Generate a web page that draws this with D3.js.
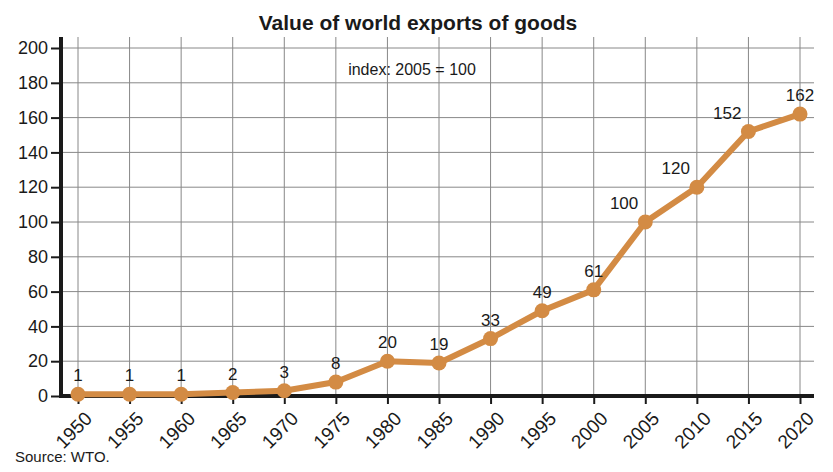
<!DOCTYPE html>
<html><head><meta charset="utf-8">
<script src="https://cdn.jsdelivr.net/npm/d3@7"></script>
<style>body{margin:0;background:#fff}text{font-family:"Liberation Sans",Arial,sans-serif}</style>
</head><body><svg id="c" width="833" height="472"></svg>
<script>
// chart data
var years = [1950,1955,1960,1965,1970,1975,1980,1985,1990,1995,2000,2005,2010,2015,2020];
var values = [1,1,1,2,3,8,20,19,33,49,61,100,120,152,162];
var yTicks = [0,20,40,60,80,100,120,140,160,180,200];

var svg = d3.select("#c");
var x = d3.scaleLinear().domain([1950,2020]).range([78,800]);
var y = d3.scaleLinear().domain([0,200]).range([396,48]);
var color = "#d38b44";

// grid
svg.append("g").selectAll("line").data(years).join("line")
    .attr("x1", d => x(d)).attr("x2", d => x(d)).attr("y1", 37).attr("y2", 396)
    .attr("stroke", "#888").attr("stroke-width", 1);
svg.append("g").selectAll("line").data(yTicks.slice(1)).join("line")
    .attr("x1", 61).attr("x2", 814).attr("y1", d => y(d)).attr("y2", d => y(d))
    .attr("stroke", "#888").attr("stroke-width", 1);

// axes
var ya = svg.append("g").attr("transform", "translate(61,0)")
    .call(d3.axisLeft(y).tickValues(yTicks).tickSize(10).tickPadding(3));
ya.select(".domain").remove();
ya.selectAll("line").attr("stroke", "#1a1a1a").attr("stroke-width", 2);
ya.selectAll("text").attr("font-size", 18).attr("fill", "#1a1a1a");

var xa = svg.append("g").attr("transform", "translate(0,396)")
    .call(d3.axisBottom(x).tickValues(years).tickFormat(d3.format("d")).tickSize(8));
xa.select(".domain").remove();
xa.selectAll("line").attr("stroke", "#1a1a1a").attr("stroke-width", 2);
xa.selectAll("text").attr("font-size", 19).attr("fill", "#1a1a1a")
    .attr("text-anchor", "end").attr("dy", 0)
    .attr("transform", "translate(7,16) rotate(-45)");

svg.append("line").attr("x1", 61).attr("x2", 61).attr("y1", 37).attr("y2", 398)
    .attr("stroke", "#1a1a1a").attr("stroke-width", 4);
svg.append("line").attr("x1", 59).attr("x2", 814).attr("y1", 396).attr("y2", 396)
    .attr("stroke", "#1a1a1a").attr("stroke-width", 4);

// series
var pts = years.map((d, i) => [d, values[i]]);
svg.append("path").datum(pts)
    .attr("d", d3.line().x(d => x(d[0])).y(d => y(d[1])))
    .attr("fill", "none").attr("stroke", color).attr("stroke-width", 6)
    .attr("stroke-linejoin", "round");
svg.append("g").selectAll("circle").data(pts).join("circle")
    .attr("cx", d => x(d[0])).attr("cy", d => y(d[1])).attr("r", 7.5).attr("fill", color);
svg.append("g").selectAll("text").data(pts).join("text")
    .attr("x", d => x(d[0]) + (d[0] >= 2005 && d[0] < 2020 ? -7 : 0)).attr("y", d => y(d[1]) - 13)
    .attr("text-anchor", d => d[0] >= 2005 && d[0] < 2020 ? "end" : "middle")
    .attr("font-size", 17).attr("fill", "#1a1a1a").text(d => d[1]);

// titles
svg.append("text").attr("x", 418).attr("y", 30).attr("text-anchor", "middle")
    .attr("font-size", 21).attr("font-weight", "bold").attr("fill", "#1a1a1a")
    .text("Value of world exports of goods");
svg.append("text").attr("x", 412).attr("y", 75).attr("text-anchor", "middle")
    .attr("font-size", 16).attr("fill", "#1a1a1a").text("index: 2005 = 100");
svg.append("text").attr("x", 15).attr("y", 462)
    .attr("font-size", 15).attr("fill", "#1a1a1a").text("Source: WTO.");
</script></body></html>
